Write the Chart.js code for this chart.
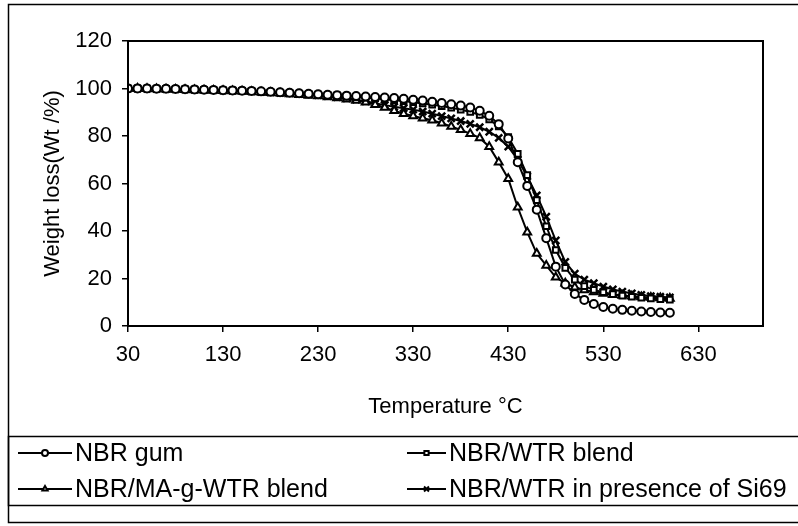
<!DOCTYPE html>
<html><head><meta charset="utf-8">
<script src="https://cdn.jsdelivr.net/npm/chart.js@4.4.0/dist/chart.umd.min.js"></script>
<style>html,body{margin:0;padding:0;background:#fff;}#wrap{width:798px;height:526px;position:relative}</style>
</head><body><div id="wrap"><canvas id="c" width="798" height="526"></canvas></div>
<script>
const temps = [30,40,50,60,70,80,90,100,110,120,130,140,150,160,170,180,190,200,210,220,230,240,250,260,270,280,290,300,310,320,330,340,350,360,370,380,390,400,410,420,430,440,450,460,470,480,490,500,510,520,530,540,550,560,570,580,590,600];
const nbrGum = [100,100,100,99.9,99.9,99.8,99.7,99.6, 99.5,99.4,99.3,99.2,99.1,99.0,98.8,98.6,98.4,98.2, 98.0,97.8,97.6,97.4,97.2,97.0,96.8,96.6,96.4,96.2, 96.0,95.7,95.3,94.9,94.4,93.9,93.4,92.8,92.0,90.6, 88.5,85,79,69,59,49,37,25,17.5,13.5, 11,9.3,8,7.3,6.8,6.4,6.1,5.9,5.7,5.6];
const nbrWtr = [100,100,100,99.9,99.8,99.7,99.6,99.5, 99.4,99.3,99.2,99.1,99.0,98.8,98.6,98.4,98.2,98.0, 97.8,97.6,97.4,97.2,97.0,96.7,96.4,96.1,95.8,95.5, 95.1,94.7,94.2,93.7,93.2,92.6,91.9,91.1,90.1,88.9, 87,84,79.5,72.5,63.5,53,42,32,24.5,19.5, 16.8,15.2,14.2,13.4,12.8,12.3,11.9,11.6,11.3,11.1];
const nbrMa = [100,100,99.9,99.8,99.7,99.6,99.5,99.4, 99.3,99.2,99.1,99.0,98.8,98.6,98.4,98.2,98.0,97.7, 97.4,97.1,96.8,96.4,96.0,95.5,95.0,94.2,93.2,92.0, 90.6,89.4,88.4,87.5,86.6,85.4,84.0,82.6,81.0,79.2, 75.5,69,62,50,39.5,30.5,25.5,20.5,18,16.3, 15.2,14.3,13.7,13.2,12.8,12.5,12.2,12.0,11.8,11.6];
const nbrSi69 = [100,100,99.9,99.9,99.8,99.7,99.6,99.5, 99.4,99.3,99.2,99.1,99.0,98.8,98.6,98.4,98.2,98.0, 97.8,97.5,97.2,96.8,96.4,95.9,95.3,94.6,93.8,93.0, 92.3,91.7,91.1,90.3,89.4,88.4,87.4,86.3,85.1,83.7, 81.8,79.2,75.5,70,63,55,46,36,27,22, 19.5,18,16.6,15.4,14.5,13.7,13.1,12.6,12.3,12.0];
const xTicks = [30,130,230,330,430,530,630];
const yTicks = [0,20,40,60,80,100,120];
const seriesNames = ["NBR gum","NBR/WTR blend","NBR/MA-g-WTR blend","NBR/WTR in presence of Si69"];
const seriesValues = [nbrGum, nbrWtr, nbrMa, nbrSi69];
const markers = ["circle","rect","triangle","crossRot"];

const FONT = '"Liberation Sans", Arial, sans-serif';
const datasets = seriesValues.map((vals,i)=>({
  label: seriesNames[i],
  data: temps.map((t,k)=>({x:t,y:vals[k]})),
  borderColor:'#000', borderWidth:2,
  pointStyle: markers[i],
  pointRadius: markers[i]==='crossRot'?5:(markers[i]==='triangle'?4.5:4),
  pointBorderWidth: markers[i]==='crossRot'?2.5:2,
  pointBorderColor:'#000', pointBackgroundColor:'#fff',
  showLine:true, tension:0
}));

const framePlugin = {
  id:'frame',
  afterDraw(chart){
    const ctx = chart.ctx, a = chart.chartArea;
    ctx.save();
    ctx.strokeStyle='#000';
    ctx.lineWidth=2;
    ctx.strokeRect(a.left, a.top, a.right-a.left, a.bottom-a.top);
    ctx.lineWidth=1.5;
    ctx.strokeRect(8.5, 4.5, 820, 518);
    ctx.strokeRect(8.5, 436.5, 820, 69);
    chart.data.datasets.forEach((ds,i)=>{
      const col = i%2, row = Math.floor(i/2);
      const x0 = col ? 407 : 18, x1 = col ? 446 : 72;
      const y = row ? 489 : 453;
      ctx.strokeStyle='#000'; ctx.lineWidth=2;
      ctx.beginPath(); ctx.moveTo(x0,y); ctx.lineTo(x1,y); ctx.stroke();
      ctx.fillStyle='#fff';
      Chart.helpers.drawPoint(ctx,{pointStyle:ds.pointStyle, radius:ds.pointStyle==='crossRot'?3.5:3, borderWidth:1.6, rotation:0}, (x0+x1)/2, y);
      ctx.fillStyle='#000';
      ctx.font = '25px ' + FONT;
      ctx.textBaseline='middle'; ctx.textAlign='left';
      ctx.fillText(ds.label, x1+3, y+1);
    });
    ctx.restore();
  }
};

new Chart(document.getElementById('c'), {
  type:'line',
  data:{datasets},
  plugins:[framePlugin],
  options:{
    responsive:false, animation:false, devicePixelRatio:1,
    layout:{padding:{left:0,right:35,top:41,bottom:100}},
    plugins:{legend:{display:false}, tooltip:{enabled:false}},
    scales:{
      x:{type:'linear', min:30, max:698,
        afterBuildTicks(s){ s.ticks = xTicks.map(v=>({value:v})); },
        afterFit(s){ s.height = 100; },
        grid:{drawOnChartArea:false, color:'#000', tickLength:6, lineWidth:1.5},
        border:{color:'#000', width:2},
        ticks:{color:'#000', font:{family:FONT, size:22}, padding:10, maxRotation:0, autoSkip:false},
        title:{display:true, text:'Temperature °C', color:'#000', font:{family:FONT, size:22}, padding:{top:0,bottom:6}}
      },
      y:{min:0, max:120,
        afterBuildTicks(s){ s.ticks = yTicks.map(v=>({value:v})); },
        afterFit(s){ s.width = 128; },
        grid:{drawOnChartArea:false, color:'#000', tickLength:6, lineWidth:1.5},
        border:{color:'#000', width:2},
        ticks:{color:'#000', font:{family:FONT, size:22}, padding:10},
        title:{display:true, text:'Weight loss(Wt /%)', color:'#000', font:{family:FONT, size:22}, padding:{top:40,bottom:0}}
      }
    }
  }
});
</script></body></html>
